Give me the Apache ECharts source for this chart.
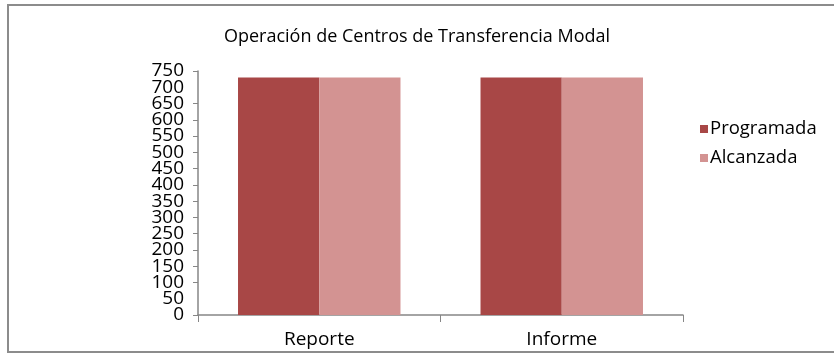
<!DOCTYPE html>
<html>
<head>
<meta charset="utf-8">
<script src="https://cdn.jsdelivr.net/npm/echarts@6/dist/echarts.min.js"></script>
<style>
  html, body { margin: 0; padding: 0; background: #ffffff; }
  #chart { width: 834px; height: 355px; }
</style>
</head>
<body>
<div id="chart"></div>
<script>
// Operación de Centros de Transferencia Modal
const categories = ['Reporte', 'Informe'];
const programada = [730, 730];
const alcanzada = [730, 730];
const seriesNames = ['Programada', 'Alcanzada'];
const yMin = 0, yMax = 750, yStep = 50;

const FONT = '"Open Sans", Lato, "Noto Sans", sans-serif';
const axisGray = '#868686';

// The labels sit closer together than ECharts' min/max overlap check allows,
// so the labels next to 0 and 750 are drawn by a second, line-less axis.
const yLabelStyle = { fontFamily: FONT, fontSize: 19, color: '#000', margin: 14 };
const innerNeighbours = [yMin + yStep, yMax - yStep];

const chart = echarts.init(document.getElementById('chart'), null, { renderer: 'canvas' });
chart.setOption({
  animation: false,
  backgroundColor: '#ffffff',
  title: {
    text: 'Operación de Centros de Transferencia Modal',
    left: 'center',
    top: 28,
    padding: 0,
    textStyle: { fontFamily: FONT, fontSize: 18, fontWeight: 'normal', color: '#000' }
  },
  graphic: [{
    type: 'rect',
    shape: { x: 8, y: 5, width: 830, height: 347 },
    style: { fill: 'none', stroke: '#8c8c8c', lineWidth: 2 },
    silent: true
  }],
  legend: {
    orient: 'vertical',
    left: 700,
    top: 119,
    padding: 0,
    itemWidth: 8,
    itemHeight: 8,
    itemGap: 9,
    icon: 'rect',
    data: seriesNames,
    textStyle: { fontFamily: FONT, fontSize: 18.5, lineHeight: 20, color: '#000', padding: [0, 0, 0, -3] }
  },
  grid: { left: 198, top: 71, width: 485, height: 244, containLabel: false },
  xAxis: {
    type: 'category',
    data: categories,
    axisLine: { lineStyle: { color: axisGray, width: 1.5 } },
    axisTick: { show: true, length: 7, lineStyle: { color: axisGray, width: 1 } },
    axisLabel: { fontFamily: FONT, fontSize: 19, color: '#000', margin: 15 }
  },
  yAxis: [
    {
      type: 'value', position: 'left', offset: 0,
      min: yMin, max: yMax, interval: yStep,
      axisLine: { show: true, lineStyle: { color: axisGray, width: 1.5 } },
      axisTick: { show: true, length: 5, lineStyle: { color: axisGray } },
      splitLine: { show: false },
      axisLabel: Object.assign({}, yLabelStyle, { showMinLabel: true, showMaxLabel: true })
    },
    {
      type: 'value', position: 'left', offset: 0,
      min: yMin, max: yMax, interval: yStep,
      axisLine: { show: false },
      axisTick: { show: false },
      splitLine: { show: false },
      axisLabel: Object.assign({}, yLabelStyle, {
        showMinLabel: false, showMaxLabel: false,
        formatter: v => (innerNeighbours.indexOf(v) >= 0 ? String(v) : '')
      })
    }
  ],
  series: [
    {
      name: seriesNames[0], type: 'bar', data: programada, yAxisIndex: 0,
      barWidth: '33.5%', barGap: '0%',
      itemStyle: { color: '#a84746' }
    },
    {
      name: seriesNames[1], type: 'bar', data: alcanzada, yAxisIndex: 0,
      barWidth: '33.5%', barGap: '0%',
      itemStyle: { color: '#d39392' }
    }
  ]
});
</script>
</body>
</html>
